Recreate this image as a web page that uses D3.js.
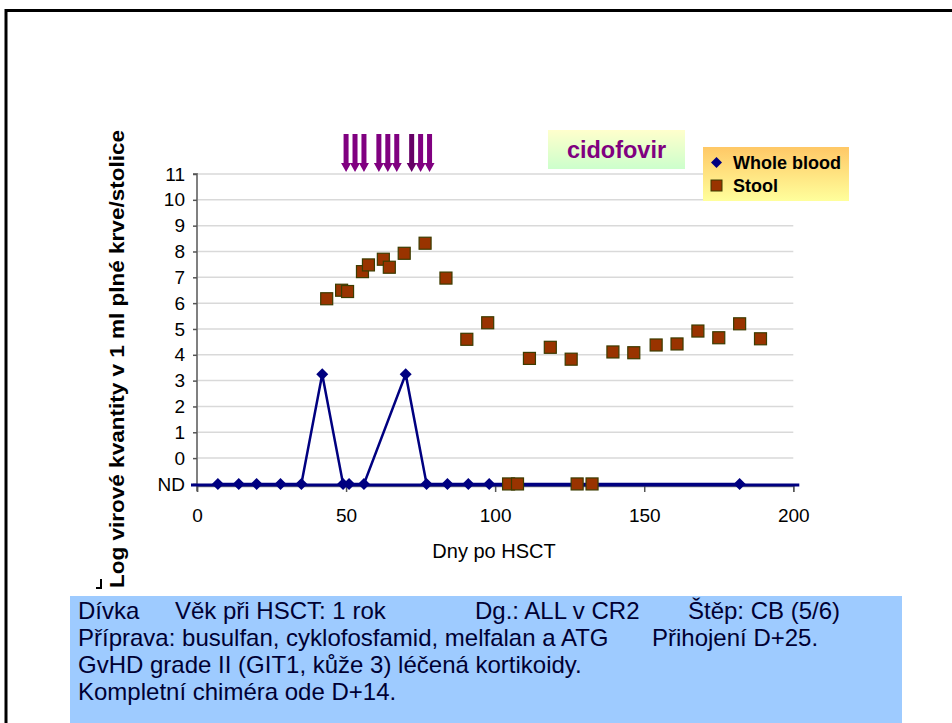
<!DOCTYPE html>
<html><head><meta charset="utf-8">
<script src="https://cdn.jsdelivr.net/npm/d3@7/dist/d3.min.js"></script>
<style>html,body{margin:0;padding:0;background:#fff;}svg{display:block;}</style>
</head><body>
<svg id="c" width="952" height="723"></svg>
<script>
// ---- data ----
const ND = -1;
const bloodDays   = [7, 14, 20, 28, 35, 42, 49, 51, 56, 70, 77, 84, 91, 98, 182];
const bloodValues = [ND, ND, ND, ND, ND, 3.25, ND, ND, ND, 3.25, ND, ND, ND, ND, ND];
const stoolDays   = [43.5, 48.5, 50.5, 55.5, 57.5, 62.5, 64.5, 69.5, 76.5, 83.5, 90.5, 97.5, 104.5, 107.5, 111.5, 118.5, 125.5, 127.5, 132.5, 139.5, 146.5, 154, 161, 168, 175, 182, 189];
const stoolValues = [6.17, 6.5, 6.45, 7.22, 7.48, 7.7, 7.39, 7.93, 8.32, 6.97, 4.6, 5.24, ND, ND, 3.86, 4.29, 3.83, ND, ND, 4.11, 4.08, 4.38, 4.42, 4.92, 4.66, 5.2, 4.62];
const cidofovirDays = [50, 53, 56, 61, 64, 67, 72, 75, 78];
const xTicks = [0, 50, 100, 150, 200];
const yTicks = [-1, 0, 1, 2, 3, 4, 5, 6, 7, 8, 9, 10, 11];
const yTickLabels = ["ND", "0", "1", "2", "3", "4", "5", "6", "7", "8", "9", "10", "11"];
const seriesNames = ["Whole blood", "Stool"];
const infoLines = [
  [["Dívka", 78], ["Věk při HSCT: 1 rok", 175], ["Dg.: ALL v CR2", 475], ["Štěp: CB (5/6)", 688]],
  [["Příprava: busulfan, cyklofosfamid, melfalan a ATG", 78], ["Přihojení D+25.", 652]],
  [["GvHD grade II (GIT1, kůže 3) léčená kortikoidy.", 78]],
  [["Kompletní chiméra ode D+14.", 78]]
];

// ---- drawing ----
const svg = d3.select("#c");
const FONT = "'Liberation Sans', Arial, sans-serif";
const x = d3.scaleLinear().domain([0, 200]).range([197, 793.3]);
const y = d3.scaleLinear().domain([-1.08, 11]).range([486, 174]);

const defs = svg.append("defs");
const g1 = defs.append("linearGradient").attr("id","gCid").attr("x1",0).attr("y1",0).attr("x2",0).attr("y2",1);
g1.append("stop").attr("offset","0%").attr("stop-color","#ffffcc");
g1.append("stop").attr("offset","100%").attr("stop-color","#ccffcc");
const g2 = defs.append("linearGradient").attr("id","gLeg").attr("x1",0).attr("y1",0).attr("x2",0).attr("y2",1);
g2.append("stop").attr("offset","0%").attr("stop-color","#ffc866");
g2.append("stop").attr("offset","100%").attr("stop-color","#ffff9c");

// frame
svg.append("path").attr("d","M6,723 V10.5 H952").attr("fill","none").attr("stroke","#000").attr("stroke-width",3);
svg.append("path").attr("d","M96,588 H101 V579").attr("fill","none").attr("stroke","#000").attr("stroke-width",2);

// gridlines
svg.append("g").selectAll("line").data(yTicks.filter(d => d >= 0)).join("line")
  .attr("x1", x(0)).attr("x2", x(200)).attr("y1", d => y(d)).attr("y2", d => y(d))
  .attr("stroke", "#d9d9d9").attr("stroke-width", 1.5);

// y axis
const yAxis = d3.axisLeft(y).tickValues(yTicks).tickFormat((d,i) => yTickLabels[i]).tickSize(4).tickPadding(8);
const ya = svg.append("g").attr("transform", `translate(${x(0)},0)`).call(yAxis);
ya.select(".domain").attr("stroke","#808080").attr("stroke-width",2).attr("d", `M-4,${y(11)}H0V${y(-1.08)+5}`);
ya.selectAll(".tick line").attr("stroke","#555").attr("stroke-width",1.5);
ya.selectAll("text").attr("font-family",FONT).attr("font-size",19).attr("fill","#000");

// x axis
const xAxis = d3.axisBottom(x).tickValues(xTicks).tickSize(6).tickPadding(17);
const xa = svg.append("g").attr("transform", `translate(0,${y(-1.08)})`).call(xAxis);
xa.select(".domain").attr("stroke","#808080").attr("stroke-width",1.5);
xa.selectAll(".tick line").attr("stroke","#555").attr("stroke-width",1.5);
xa.selectAll("text").attr("font-family",FONT).attr("font-size",19).attr("fill","#000");

// ND baseline (navy)
svg.append("line").attr("x1", x(0)-6).attr("x2", x(200)+6).attr("y1", y(ND)+1).attr("y2", y(ND)+1)
  .attr("stroke","#000080").attr("stroke-width",3);

// whole blood line
const bloodPts = bloodDays.map((d,i) => [d, bloodValues[i]]);
svg.append("path").datum(bloodPts)
  .attr("d", d3.line().x(d => x(d[0])).y(d => y(d[1])))
  .attr("fill","none").attr("stroke","#000080").attr("stroke-width",2.5).attr("stroke-linejoin","miter");
svg.append("g").selectAll("path").data(bloodPts).join("path")
  .attr("d", d => { const cx = x(d[0]), cy = y(d[1]); return `M${cx},${cy-6}L${cx+6},${cy}L${cx},${cy+6}L${cx-6},${cy}Z`; })
  .attr("fill","#000080");

// stool squares
const stoolPts = stoolDays.map((d,i) => [d, stoolValues[i]]);
svg.append("g").selectAll("rect").data(stoolPts).join("rect")
  .attr("x", d => x(d[0]) - 6).attr("y", d => y(d[1]) - 6).attr("width", 12).attr("height", 12)
  .attr("fill","#993300").attr("stroke","#3c3c00").attr("stroke-width",1.2);

// cidofovir arrows
svg.append("g").selectAll("path").data(cidofovirDays).join("path")
  .attr("d", d => { const cx = x(d); return `M${cx-2.5},134 H${cx+2.5} V163 H${cx+5} L${cx},172 L${cx-5},163 H${cx-2.5} Z`; })
  .attr("fill", (d,i) => i === 6 ? "#660066" : "#800080");

// cidofovir label box
svg.append("rect").attr("x",548).attr("y",130).attr("width",137).attr("height",39).attr("fill","url(#gCid)");
svg.append("text").attr("x",616.5).attr("y",158).attr("text-anchor","middle")
  .attr("font-family",FONT).attr("font-weight","bold").attr("font-size",23.5).attr("fill","#800080").text("cidofovir");

// legend
svg.append("rect").attr("x",703).attr("y",147).attr("width",146).attr("height",54).attr("fill","url(#gLeg)");
const lg = svg.append("g");
lg.append("path").attr("d", () => { const cx = 716.5, cy = 162.5; return `M${cx},${cy-5.5}L${cx+5.5},${cy}L${cx},${cy+5.5}L${cx-5.5},${cy}Z`; }).attr("fill","#000080");
lg.append("rect").attr("x",711).attr("y",180).attr("width",11).attr("height",11).attr("fill","#993300").attr("stroke","#3c3c00");
lg.selectAll("text").data(seriesNames).join("text")
  .attr("x",733).attr("y",(d,i) => 168.5 + i*23)
  .attr("font-family",FONT).attr("font-weight","bold").attr("font-size",18).attr("fill","#000").text(d => d);

// axis titles
svg.append("text").attr("transform","translate(124,359) rotate(-90)").attr("text-anchor","middle")
  .attr("font-family",FONT).attr("font-weight","bold").attr("font-size",21).attr("fill","#000")
  .attr("textLength",458).attr("lengthAdjust","spacingAndGlyphs")
  .text("Log virové kvantity v 1 ml plné krve/stolice");
svg.append("text").attr("x",494).attr("y",558).attr("text-anchor","middle")
  .attr("font-family",FONT).attr("font-size",20).attr("fill","#000").text("Dny po HSCT");

// info box
svg.append("rect").attr("x",70).attr("y",596).attr("width",832).attr("height",127).attr("fill","#9ecbff");
const ib = svg.append("g");
infoLines.forEach((line, li) => {
  line.forEach(([t, px]) => {
    ib.append("text").attr("x", px).attr("y", 619 + li*27)
      .attr("font-family",FONT).attr("font-size",24).attr("fill","#000033").text(t);
  });
});
</script>
</body></html>
